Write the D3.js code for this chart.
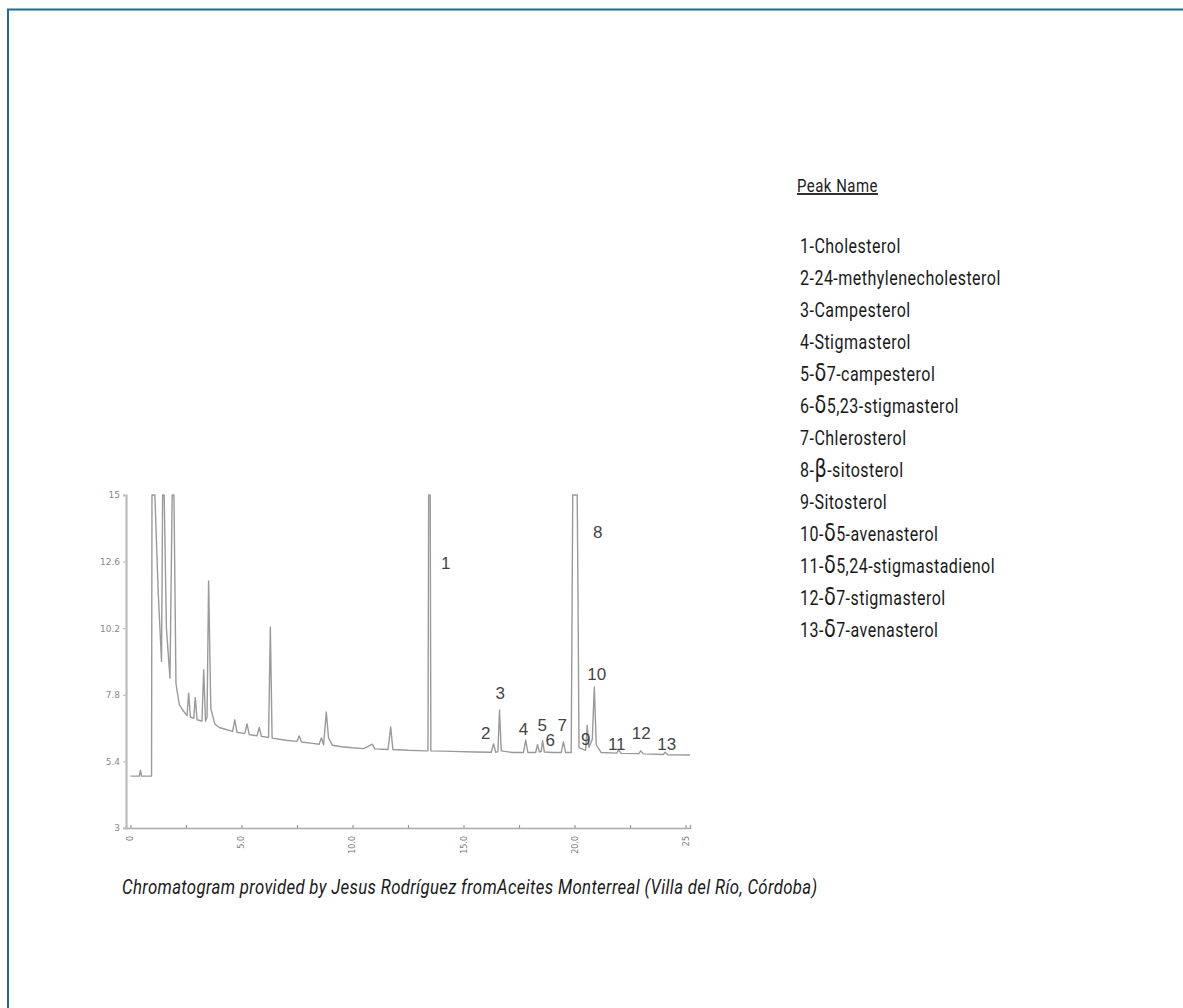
<!DOCTYPE html>
<html>
<head>
<meta charset="utf-8">
<script src="https://cdn.jsdelivr.net/npm/d3@7"></script>
<style>
  body { margin: 0; background: #fff; }
  .cond { font-family: "Roboto", "DejaVu Sans", sans-serif; }
</style>
</head>
<body>
<svg id="canvas"></svg>
<script>
// detector trace: [minutes, response]
let trace = [
  [0.00,4.87],[0.40,4.87],[0.45,5.08],[0.50,4.87],[0.95,4.87],[0.97,15],[1.10,15],[1.25,11.5],[1.40,9.0],
  [1.45,15],[1.52,15],[1.62,10.2],[1.78,8.4],[1.88,15],[1.96,15],[2.05,8.2],[2.20,7.45],[2.35,7.25],
  [2.55,7.05],[2.62,7.86],[2.70,7.0],[2.85,6.95],[2.92,7.7],[3.00,6.9],[3.22,6.85],[3.30,8.7],[3.38,6.85],
  [3.45,7.0],[3.52,11.9],[3.62,7.3],[3.80,6.75],[4.00,6.62],[4.60,6.48],[4.70,6.9],[4.80,6.45],[5.15,6.4],
  [5.25,6.75],[5.35,6.37],[5.70,6.32],[5.80,6.62],[5.90,6.3],[6.22,6.26],[6.30,10.24],[6.38,6.24],
  [7.00,6.16],[7.50,6.12],[7.60,6.32],[7.70,6.1],[8.20,6.05],[8.50,6.02],[8.60,6.25],[8.70,6.0],
  [8.82,7.18],[8.92,6.25],[9.10,5.98],[9.50,5.93],[10.00,5.89],[10.50,5.86],[10.90,6.02],[11.00,5.85],
  [11.60,5.83],[11.72,6.64],[11.82,5.83],[12.50,5.8],[13.30,5.78],[13.40,5.78],[13.43,15],[13.50,15],
  [13.53,5.78],[14.50,5.76],[15.50,5.74],[16.25,5.73],[16.35,6.03],[16.45,5.73],[16.55,5.75],
  [16.62,7.25],[16.70,5.78],[17.20,5.72],[17.70,5.72],[17.80,6.17],[17.90,5.72],[18.25,5.72],
  [18.33,6.0],[18.42,5.74],[18.50,5.76],[18.56,6.15],[18.64,5.74],[19.00,5.72],[19.40,5.72],
  [19.50,6.1],[19.60,5.72],[19.85,5.72],[19.92,15],[20.12,15],[20.16,10.96],[20.20,5.9],[20.50,5.8],
  [20.57,6.7],[20.65,5.9],[20.80,6.2],[20.89,8.08],[20.98,6.0],[21.20,5.72],[21.90,5.7],[21.98,5.82],
  [22.10,5.69],[22.90,5.68],[22.98,5.78],[23.10,5.67],[24.00,5.65],[24.08,5.73],[24.20,5.64],[25.20,5.63]
];

// peak number labels, placed in data units [minutes, response]
let peakNums  = ["1","2","3","4","5","6","7","8","9","10","11","12","13"];
let peakTimes = [14.2, 16.0, 16.65, 17.7, 18.55, 18.9, 19.45, 21.05, 20.5, 21.0, 21.9, 23.0, 24.15];
let peakLevels= [12.35, 6.2, 7.65, 6.35, 6.5, 5.95, 6.5, 13.45, 6.0, 8.35, 5.8, 6.2, 5.8];

let yTicks = [3, 5.4, 7.8, 10.2, 12.6, 15];
let xTicks = [0, 2.5, 5, 7.5, 10, 12.5, 15, 17.5, 20, 22.5, 25];
let xTickLabels = {0:"0", 5:"5.0", 10:"10.0", 15:"15.0", 20:"20.0", 25:"25"};

let legendTitle = "Peak Name";
let legendNums  = ["1","2","3","4","5","6","7","8","9","10","11","12","13"];
let legendSym   = ["","","","","δ","δ","","β","","δ","δ","δ","δ"];
let legendNames = ["Cholesterol","24-methylenecholesterol","Campesterol","Stigmasterol","7-campesterol",
                   "5,23-stigmasterol","Chlerosterol","-sitosterol","Sitosterol","5-avenasterol",
                   "5,24-stigmastadienol","7-stigmasterol","7-avenasterol"];
let footer = "Chromatogram provided by Jesus Rodríguez fromAceites Monterreal (Villa del Río, Córdoba)";

let W = 1183, H = 1008;
let svg = d3.select('#canvas').attr("width", W).attr("height", H);

// page frame
svg.append("rect")
   .attr("x", 8).attr("y", 9.5)
   .attr("width", 1300).attr("height", 1100)
   .attr("fill", "none")
   .attr("stroke", "#1b6b9c")
   .attr("stroke-width", 2);

let x = d3.scaleLinear().domain([-0.2, 25.2]).range([126, 690]);
let y = d3.scaleLinear().domain([3, 15]).range([828, 495]);

// axes
let xAxis = svg.append("g")
   .attr("transform", "translate(0,828)")
   .call(d3.axisBottom(x).tickValues(xTicks).tickSize(-3).tickFormat(""));
xAxis.select(".domain").attr("stroke", "#aaa").attr("stroke-width", 1.6);
xAxis.selectAll(".tick line").attr("stroke", "#999").attr("stroke-width", 1.2);

svg.append("g").selectAll("text")
   .data(Object.keys(xTickLabels).map(Number))
   .enter().append("text")
   .attr("transform", (d) => "translate(" + (x(d) + 3) + ",836) rotate(-90)")
   .attr("text-anchor", "end")
   .style("font-family", "DejaVu Sans, sans-serif")
   .style("font-size", "8px")
   .attr("fill", "#777")
   .text((d) => xTickLabels[d]);

let yAxis = svg.append("g")
   .attr("transform", "translate(126,0)")
   .call(d3.axisLeft(y).tickValues(yTicks).tickSize(3).tickPadding(3).tickFormat((d) => String(d)));
yAxis.select(".domain").attr("stroke", "#bbb").attr("stroke-width", 2.2);
yAxis.selectAll(".tick line").attr("stroke", "#bbb");
yAxis.selectAll(".tick text")
   .style("font-family", "DejaVu Sans, sans-serif")
   .style("font-size", "9px")
   .attr("fill", "#888");

// trace
let line = d3.line().x((d) => x(d[0])).y((d) => y(d[1]));
svg.append("path")
   .datum(trace)
   .attr("d", line)
   .attr("fill", "none")
   .attr("stroke", "#9a9a9a")
   .attr("stroke-width", 1.4)
   .attr("stroke-linejoin", "round");

// peak numbers
svg.append("g").selectAll("text")
   .data(peakNums)
   .enter().append("text")
   .attr("x", (d, i) => x(peakTimes[i]))
   .attr("y", (d, i) => y(peakLevels[i]))
   .attr("text-anchor", "middle")
   .style("font-family", "Liberation Sans, Arial, sans-serif")
   .style("font-size", "17px")
   .attr("fill", "#444")
   .text((d) => d);

// condensed look: squeeze text horizontally so that one sample line hits its width
function squeeze(sel, x0, y0, sx) {
  sel.attr("transform", "translate(" + x0 + "," + y0 + ") scale(" + sx + ",1)");
}

// legend
let title = svg.append("text")
   .attr("class", "cond")
   .style("font-size", "18px")
   .style("letter-spacing", "0.6px")
   .style("text-decoration", "underline")
   .attr("fill", "#1a1a1a")
   .text(legendTitle);
squeeze(title, 797, 192, 81 / title.node().getComputedTextLength());

let items = svg.append("g").selectAll("text")
   .data(legendNames)
   .enter().append("text")
   .attr("class", "cond")
   .style("font-size", "20px")
   .style("letter-spacing", "0.6px")
   .attr("fill", "#1a1a1a");

items.append("tspan").text((d, i) => legendNums[i] + "-");
items.append("tspan")
   .style("font-family", "DejaVu Sans, sans-serif")
   .style("font-size", "24px")
   .text((d, i) => legendSym[i]);
items.append("tspan").text((d) => d);

let sx = 201 / items.nodes()[1].getComputedTextLength();
items.each(function(d, i) { squeeze(d3.select(this), 800, 253 + i * 32, sx); });

// credit line
let credit = svg.append("text")
   .attr("class", "cond")
   .style("font-size", "20px")
   .style("font-style", "italic")
   .style("letter-spacing", "0.4px")
   .attr("fill", "#1a1a1a")
   .text(footer);
squeeze(credit, 122, 894, 696 / credit.node().getComputedTextLength());
</script>
</body>
</html>
